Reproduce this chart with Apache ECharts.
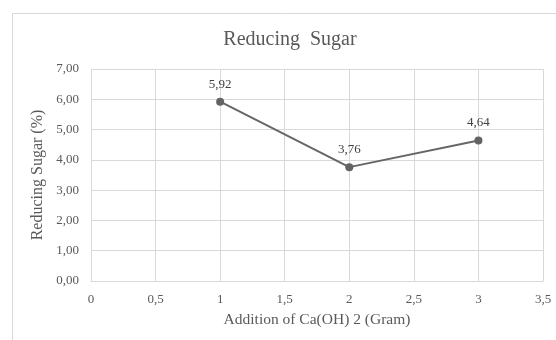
<!DOCTYPE html>
<html>
<head>
<meta charset="utf-8">
<script src="https://cdn.jsdelivr.net/npm/echarts@6/dist/echarts.min.js"></script>
<style>
html,body{margin:0;padding:0;background:#fff;}
#chart{width:556px;height:340px;}
</style>
</head>
<body>
<div id="chart"></div>
<script>
// Ca(OH)2 added (gram) and reducing sugar content (%)
const additions = [1, 2, 3];
const reducingSugar = [5.92, 3.76, 4.64];
const xTicks = [0, 0.5, 1, 1.5, 2, 2.5, 3, 3.5];
const yTicks = [0, 1, 2, 3, 4, 5, 6, 7];

const serif = '"Liberation Serif", "Times New Roman", serif';
const comma = (v, d) => v.toFixed(d).replace('.', ',');

const chart = echarts.init(document.getElementById('chart'));
chart.setOption({
  animation: false,
  graphic: [{
    type: 'rect',
    shape: { x: 12.5, y: 13.5, width: 600, height: 400 },
    style: { fill: 'none', stroke: '#d9d9d9', lineWidth: 1 },
    silent: true
  }, {
    type: 'text',
    x: 290,
    y: 40,
    style: {
      text: 'Reducing  Sugar',
      fontFamily: serif, fontSize: 20, fill: '#595959',
      align: 'center', verticalAlign: 'middle'
    },
    silent: true
  }],
  grid: { left: 91, right: 13, top: 69, bottom: 59, containLabel: false },
  xAxis: {
    type: 'value',
    min: xTicks[0],
    max: xTicks[xTicks.length - 1],
    interval: 0.5,
    name: 'Addition of Ca(OH) 2 (Gram)',
    nameLocation: 'middle',
    nameGap: 31,
    nameTextStyle: { fontFamily: serif, fontSize: 15.5, color: '#595959' },
    axisLine: { show: true, lineStyle: { color: '#d9d9d9', width: 1 } },
    axisTick: { show: false },
    splitLine: { show: true, lineStyle: { color: '#d9d9d9', width: 1 } },
    axisLabel: {
      fontFamily: serif, fontSize: 13, color: '#595959', margin: 12,
      formatter: v => String(v).replace('.', ',')
    }
  },
  yAxis: {
    type: 'value',
    min: yTicks[0],
    max: yTicks[yTicks.length - 1],
    interval: 1,
    name: 'Reducing Sugar (%)',
    nameLocation: 'middle',
    nameGap: 41,
    nameTextStyle: { fontFamily: serif, fontSize: 16, color: '#595959' },
    axisLine: { show: true, lineStyle: { color: '#d9d9d9', width: 1 } },
    axisTick: { show: false },
    splitLine: { show: true, lineStyle: { color: '#d9d9d9', width: 1 } },
    axisLabel: {
      fontFamily: serif, fontSize: 13, color: '#595959', margin: 12,
      formatter: v => comma(v, 2)
    }
  },
  series: [{
    type: 'line',
    data: additions.map((x, i) => [x, reducingSugar[i]]),
    symbol: 'circle',
    symbolSize: 8,
    lineStyle: { color: '#666666', width: 2 },
    itemStyle: { color: '#636363' },
    label: {
      show: true,
      position: 'top',
      distance: 7,
      fontFamily: serif,
      fontSize: 13,
      color: '#404040',
      formatter: p => comma(p.value[1], 2)
    }
  }]
});
</script>
</body>
</html>
